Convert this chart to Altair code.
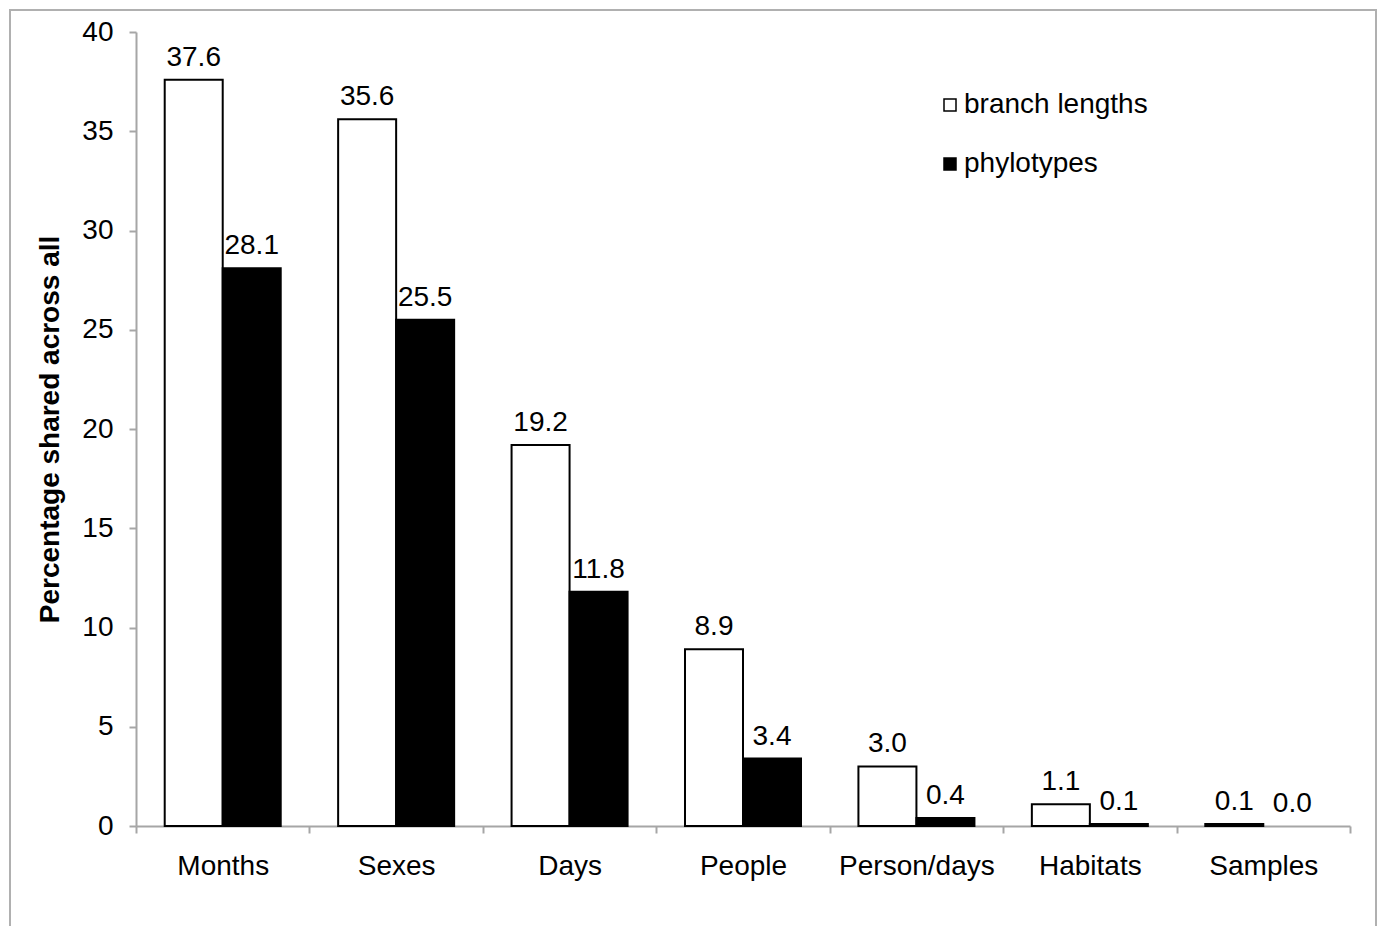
import altair as alt
import pandas as pd

categories = ["Months", "Sexes", "Days", "People", "Person/days", "Habitats", "Samples"]
series_names = ["branch lengths", "phylotypes"]
branch_lengths = [37.6, 35.6, 19.2, 8.9, 3.0, 1.1, 0.1]
phylotypes = [28.1, 25.5, 11.8, 3.4, 0.4, 0.1, 0.0]
y_ticks = [0, 5, 10, 15, 20, 25, 30, 35, 40]

rows = []
for c, b, p in zip(categories, branch_lengths, phylotypes):
    rows.append({"cat": c, "series": series_names[0], "value": b})
    rows.append({"cat": c, "series": series_names[1], "value": p})
df = pd.DataFrame(rows)

FONT = "Liberation Sans"
FS = 28
AX = "#a6a6a6"

x_enc = alt.X("cat:N", sort=categories, title=None,
              scale=alt.Scale(paddingInner=0, paddingOuter=0),
              axis=alt.Axis(labelAngle=0, labelFontSize=FS, labelFont=FONT, labelColor="black",
                            labelPadding=19, tickSize=7, tickColor=AX, domainColor=AX,
                            domainWidth=2, tickWidth=2, tickBand="extent"))
xoff = alt.XOffset("series:N", sort=series_names,
                   scale=alt.Scale(domain=series_names, paddingInner=0, paddingOuter=0.495))
y_enc = alt.Y("value:Q", title="Percentage shared across all",
              scale=alt.Scale(domain=[0, 40], nice=False),
              axis=alt.Axis(values=y_ticks, grid=False, labelFontSize=FS, labelFont=FONT,
                            labelColor="black", labelPadding=16, tickSize=7, tickColor=AX,
                            domainColor=AX, domainWidth=2, tickWidth=2,
                            titleFontSize=FS, titleFont=FONT, titleFontWeight="bold",
                            titleColor="black", titlePadding=17))

bars = alt.Chart(df).mark_bar(stroke="black", strokeWidth=2).encode(
    x=x_enc, xOffset=xoff, y=y_enc,
    fill=alt.Fill("series:N", sort=series_names,
                  scale=alt.Scale(domain=series_names, range=["white", "black"]),
                  legend=alt.Legend(title=None, orient="none", legendX=800, legendY=59,
                                    symbolType="square", symbolSize=144,
                                    symbolStrokeColor="black", symbolStrokeWidth=1.5,
                                    labelFontSize=FS, labelFont=FONT, labelColor="black",
                                    labelOffset=0, rowPadding=31, labelLimit=0)),
    strokeOpacity=alt.condition("datum.value == 0", alt.value(0), alt.value(1)),
)

labels = alt.Chart(df).mark_text(fontSize=FS, font=FONT, color="black", dy=-14,
                                 baseline="alphabetic").encode(
    x=alt.X("cat:N", sort=categories), xOffset=xoff, y="value:Q",
    text=alt.Text("value:Q", format=".1f"),
)

frame = alt.Chart(alt.Data(values=[{"a": 1}])).mark_rect(
    fill="transparent", stroke="#b0b0b0", strokeWidth=2).encode(
    x=alt.value(-126), x2=alt.value(1240), y=alt.value(-22), y2=alt.value(960))

chart = alt.layer(frame, bars, labels).properties(
    width=1214, height=794,
    padding={"left": 128, "top": 24, "right": 27, "bottom": 100},
    autosize=alt.AutoSizeParams(type="none"),
    background="white",
    view=alt.ViewBackground(stroke="transparent", strokeWidth=0),
).configure_view(strokeWidth=0, stroke="transparent")

chart.save("out.html", embed_options={"renderer": "svg", "actions": False})
